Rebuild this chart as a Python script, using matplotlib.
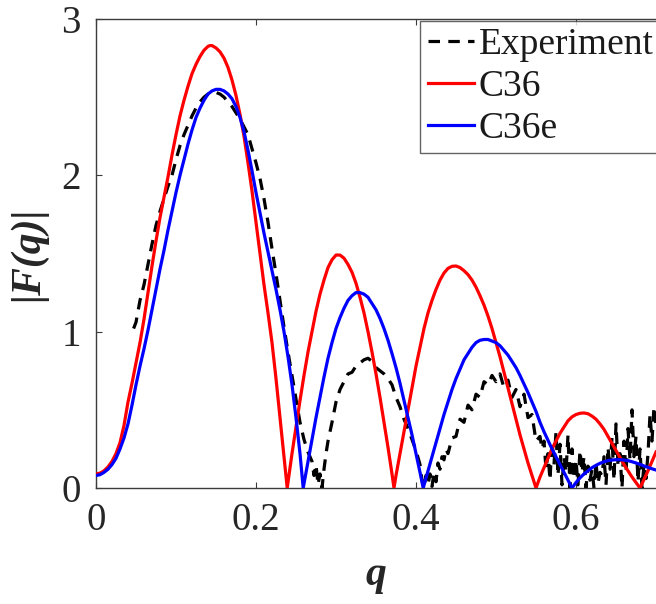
import matplotlib
matplotlib.use("Agg")
import matplotlib.pyplot as plt

# --- C36 model form factor ---
q_c36 = [0.0, 0.005, 0.01, 0.015, 0.02, 0.025, 0.03, 0.035, 0.04, 0.045, 0.05, 0.055,
         0.06, 0.065, 0.07, 0.075, 0.08, 0.085, 0.09, 0.095, 0.10, 0.105, 0.11, 0.115,
         0.12, 0.125, 0.13, 0.135, 0.14, 0.1425, 0.145, 0.15, 0.155, 0.16, 0.165, 0.17,
         0.175, 0.18, 0.185, 0.19, 0.195, 0.20, 0.205, 0.21, 0.215, 0.22, 0.225, 0.23,
         0.235, 0.239,
         0.245, 0.25, 0.255, 0.26, 0.265, 0.27, 0.275, 0.28, 0.285, 0.29, 0.295, 0.30,
         0.305, 0.31, 0.315, 0.32, 0.325, 0.33, 0.335, 0.34, 0.345, 0.35, 0.355, 0.36,
         0.365, 0.37, 0.3725,
         0.375, 0.38, 0.385, 0.39, 0.395, 0.40, 0.405, 0.41, 0.415, 0.42, 0.425, 0.43,
         0.435, 0.44, 0.445, 0.45, 0.455, 0.46, 0.465, 0.47, 0.475, 0.48, 0.485, 0.49,
         0.495, 0.50, 0.505, 0.51, 0.515, 0.52, 0.525, 0.53, 0.535, 0.54, 0.545, 0.55,
         0.555, 0.56, 0.565, 0.57, 0.575, 0.58, 0.585, 0.59, 0.595, 0.60, 0.605, 0.61,
         0.615, 0.62, 0.625, 0.63, 0.635, 0.64, 0.645, 0.65, 0.655, 0.66, 0.665, 0.67,
         0.675, 0.68, 0.685, 0.69, 0.695, 0.70]
f_c36 = [0.09, 0.095, 0.11, 0.135, 0.17, 0.22, 0.29, 0.40, 0.55, 0.67, 0.80, 0.93,
         1.08, 1.25, 1.42, 1.58, 1.73, 1.86, 1.99, 2.13, 2.26, 2.38, 2.48, 2.57,
         2.65, 2.71, 2.76, 2.80, 2.825, 2.83, 2.83, 2.815, 2.79, 2.75, 2.69, 2.61,
         2.51, 2.39, 2.25, 2.08, 1.90, 1.70, 1.50, 1.30, 1.12, 0.93, 0.70, 0.45,
         0.20, 0.0,
         0.22, 0.39, 0.56, 0.72, 0.87, 1.00, 1.13, 1.24, 1.33, 1.41, 1.46, 1.49,
         1.49, 1.47, 1.43, 1.38, 1.31, 1.22, 1.12, 1.00, 0.87, 0.73, 0.58, 0.42,
         0.26, 0.09, 0.0,
         0.08, 0.22, 0.36, 0.50, 0.64, 0.78, 0.90, 1.02, 1.12, 1.20, 1.27, 1.33,
         1.375, 1.405, 1.418, 1.42, 1.41, 1.39, 1.365, 1.33, 1.285, 1.23, 1.17, 1.10,
         1.02, 0.93, 0.84, 0.74, 0.64, 0.54, 0.44, 0.34, 0.25, 0.16, 0.08, 0.0,
         0.07, 0.13, 0.19, 0.25, 0.30, 0.35, 0.39, 0.43, 0.455, 0.47, 0.478, 0.48,
         0.475, 0.46, 0.44, 0.41, 0.375, 0.33, 0.285, 0.24, 0.195, 0.15, 0.11, 0.07,
         0.035, 0.0, 0.055, 0.11, 0.17, 0.23]

# --- C36e model form factor ---
q_c36e = [0.0, 0.005, 0.01, 0.015, 0.02, 0.025, 0.03, 0.035, 0.04, 0.045, 0.05, 0.055,
          0.06, 0.065, 0.07, 0.075, 0.08, 0.085, 0.09, 0.095, 0.10, 0.105, 0.11, 0.115,
          0.12, 0.125, 0.13, 0.135, 0.14, 0.145, 0.15, 0.155, 0.16, 0.165, 0.17, 0.175,
          0.18, 0.185, 0.19, 0.195, 0.20, 0.205, 0.21, 0.215, 0.22, 0.225, 0.23, 0.235,
          0.24, 0.245, 0.25, 0.255, 0.259,
          0.265, 0.27, 0.275, 0.28, 0.285, 0.29, 0.295, 0.30, 0.305, 0.31, 0.315, 0.32,
          0.325, 0.33, 0.335, 0.34, 0.345, 0.35, 0.355, 0.36, 0.365, 0.37, 0.375, 0.38,
          0.385, 0.39, 0.395, 0.40, 0.405, 0.409,
          0.415, 0.42, 0.425, 0.43, 0.435, 0.44, 0.445, 0.45, 0.455, 0.46, 0.465, 0.47,
          0.475, 0.48, 0.485, 0.49, 0.495, 0.50, 0.505, 0.51, 0.515, 0.52, 0.525, 0.53,
          0.535, 0.54, 0.545, 0.55, 0.555, 0.56, 0.565, 0.57, 0.575, 0.58, 0.585, 0.59,
          0.595,
          0.60, 0.605, 0.61, 0.615, 0.62, 0.625, 0.63, 0.635, 0.64, 0.645, 0.65, 0.655,
          0.66, 0.665, 0.67, 0.675, 0.68, 0.685, 0.69, 0.695, 0.70]
f_c36e = [0.08, 0.085, 0.10, 0.12, 0.15, 0.19, 0.25, 0.32, 0.41, 0.53, 0.66, 0.78,
          0.89, 1.01, 1.14, 1.27, 1.40, 1.52, 1.65, 1.77, 1.89, 2.00, 2.10, 2.20,
          2.29, 2.37, 2.43, 2.48, 2.52, 2.54, 2.55, 2.55, 2.54, 2.52, 2.49, 2.44,
          2.37, 2.28, 2.16, 2.03, 1.89, 1.76, 1.63, 1.51, 1.39, 1.27, 1.14, 1.00,
          0.84, 0.66, 0.45, 0.22, 0.0,
          0.17, 0.31, 0.45, 0.58, 0.71, 0.83, 0.93, 1.02, 1.09, 1.15, 1.20, 1.23,
          1.25, 1.25, 1.24, 1.22, 1.18, 1.14, 1.085, 1.02, 0.945, 0.86, 0.77, 0.67,
          0.56, 0.45, 0.34, 0.22, 0.10, 0.0,
          0.11, 0.20, 0.29, 0.38, 0.47, 0.55, 0.63, 0.70, 0.76, 0.82, 0.86, 0.90,
          0.93, 0.945, 0.95, 0.95, 0.94, 0.93, 0.91, 0.88, 0.85, 0.81, 0.77, 0.72,
          0.665, 0.61, 0.55, 0.49, 0.42, 0.36, 0.305, 0.25, 0.20, 0.15, 0.10, 0.05,
          0.0,
          0.035, 0.065, 0.09, 0.11, 0.13, 0.145, 0.158, 0.168, 0.175, 0.179, 0.181, 0.181,
          0.179, 0.175, 0.168, 0.16, 0.151, 0.141, 0.132, 0.123, 0.115]

# --- measured form factor ---
q_exp = [0.047, 0.05, 0.055, 0.06, 0.065, 0.07, 0.075, 0.08, 0.085, 0.09, 0.095, 0.10,
         0.105, 0.11, 0.115, 0.12, 0.125, 0.13, 0.135, 0.14, 0.145, 0.15, 0.155, 0.16,
         0.165, 0.17, 0.175, 0.18, 0.185, 0.19, 0.195, 0.20, 0.205, 0.21, 0.215, 0.22,
         0.225, 0.23, 0.235, 0.24, 0.245, 0.25, 0.255, 0.26, 0.265, 0.27,
         0.2725, 0.275, 0.2775, 0.28, 0.2825, 0.285, 0.2875, 0.29, 0.295, 0.30, 0.305,
         0.31, 0.315, 0.32, 0.325, 0.33, 0.335, 0.34, 0.345, 0.35, 0.355, 0.36, 0.365,
         0.37, 0.375, 0.38, 0.385, 0.39, 0.395, 0.40, 0.405, 0.4075, 0.41, 0.4125,
         0.415, 0.4175, 0.42, 0.4225, 0.425, 0.4275, 0.43, 0.4325, 0.435, 0.4375,
         0.44, 0.445, 0.45, 0.455, 0.46, 0.465, 0.47, 0.475, 0.48, 0.485, 0.49, 0.495,
         0.50, 0.505, 0.51, 0.515, 0.52, 0.525, 0.53, 0.535, 0.54, 0.545, 0.55, 0.555,
         0.5575, 0.56, 0.5625, 0.565, 0.5675, 0.57, 0.5725, 0.575, 0.5775, 0.58,
         0.5825, 0.585, 0.5875, 0.59, 0.5925, 0.595, 0.5975, 0.60, 0.6025, 0.605,
         0.6075, 0.61, 0.6125, 0.615, 0.6175, 0.62, 0.6225, 0.625, 0.6275, 0.63,
         0.6325, 0.635, 0.6375, 0.64, 0.6425, 0.645, 0.6475, 0.65, 0.6525, 0.655,
         0.6575, 0.66, 0.6625, 0.665, 0.6675, 0.67, 0.6725, 0.675, 0.6775, 0.68,
         0.6825, 0.685, 0.6875, 0.69, 0.6925, 0.695, 0.6975, 0.70]
f_exp = [1.02, 1.06, 1.20, 1.30, 1.43, 1.56, 1.68, 1.77, 1.85, 1.93, 2.00, 2.10,
         2.19, 2.26, 2.32, 2.38, 2.43, 2.47, 2.50, 2.52, 2.53, 2.53, 2.52, 2.50,
         2.47, 2.44, 2.40, 2.36, 2.31, 2.26, 2.17, 2.08, 1.98, 1.85, 1.70, 1.53,
         1.37, 1.20, 1.03, 0.87, 0.72, 0.57, 0.42, 0.31, 0.23, 0.17,
         0.08, 0.15, 0.02, 0.09, 0.0, 0.12, 0.22, 0.30, 0.42, 0.55, 0.63,
         0.68, 0.73, 0.74, 0.78, 0.80, 0.82, 0.83, 0.81, 0.77, 0.75, 0.73, 0.70,
         0.66, 0.58, 0.52, 0.44, 0.38, 0.31, 0.24, 0.15, 0.05, 0.0, 0.08,
         0.02, 0.09, 0.01, 0.10, 0.04, 0.16, 0.12, 0.20, 0.18, 0.25,
         0.22, 0.32, 0.33, 0.44, 0.42, 0.53, 0.50, 0.60, 0.58, 0.68, 0.66, 0.72,
         0.68, 0.73, 0.64, 0.69, 0.58, 0.63, 0.52, 0.60, 0.45, 0.47, 0.30, 0.33,
         0.25, 0.30, 0.12, 0.22, 0.05, 0.30, 0.15, 0.36, 0.08, 0.28,
         0.02, 0.20, 0.10, 0.34, 0.0, 0.25, 0.06, 0.18, 0.02, 0.24,
         0.10, 0.20, 0.0, 0.14, 0.05, 0.12, 0.0, 0.16, 0.03, 0.10,
         0.08, 0.20, 0.02, 0.26, 0.12, 0.32, 0.05, 0.41, 0.15, 0.22,
         0.0, 0.30, 0.10, 0.38, 0.18, 0.50, 0.20, 0.33, 0.04, 0.25,
         0.0, 0.15, 0.06, 0.22, 0.47, 0.30, 0.52, 0.40]

x_ticks = [0, 0.2, 0.4, 0.6]
x_tick_labels = ["0", "0.2", "0.4", "0.6"]
y_ticks = [0, 1, 2, 3]
y_tick_labels = ["0", "1", "2", "3"]

plt.rcParams["font.family"] = ["Liberation Serif", "DejaVu Serif"]
axis_color = "#3c3c3c"

fig = plt.figure(figsize=(6.56, 6.04), dpi=100)
ax = fig.add_axes([96 / 656, 1 - 488 / 604, 560 / 656, 469 / 604])

ax.plot(q_exp, f_exp, color="black", lw=2.3, linestyle=(0, (3.6, 2.6)),
        label="Experiment", zorder=2)
ax.plot(q_c36, f_c36, color="#ff0000", lw=2.3, label="C36", zorder=3)
ax.plot(q_c36e, f_c36e, color="#0000ff", lw=2.3, label="C36e", zorder=4)

ax.set_xlim(0, 0.7)
ax.set_ylim(0, 3)
ax.set_xticks(x_ticks)
ax.set_xticklabels(x_tick_labels)
ax.set_yticks(y_ticks)
ax.set_yticklabels(y_tick_labels)
ax.tick_params(direction="in", length=4.5, width=0.8, colors=axis_color,
               labelsize=28, top=True, right=False)
ax.tick_params(axis="x", pad=10)
ax.tick_params(axis="y", pad=11)
for lbl in ax.get_xticklabels() + ax.get_yticklabels():
    lbl.set_color("#262626")
for side in ("left", "bottom", "top"):
    ax.spines[side].set_color(axis_color)
    ax.spines[side].set_linewidth(1.0)
ax.spines["right"].set_visible(False)

ax.set_xlabel("q", fontsize=30, fontweight="bold", style="italic",
              color="#262626", labelpad=12)
ax.set_ylabel("|F(q)|", fontsize=30, fontweight="bold", style="italic",
              color="#262626", labelpad=10)

# legend frame starts level with the top spine and runs off the right edge
leg = ax.legend(loc="upper left", bbox_to_anchor=((420 - 96) / 560, 1.0 - 1.5 / 469),
                borderaxespad=0, fontsize=27, frameon=True, fancybox=False,
                handlelength=1.25, handletextpad=0.12, labelspacing=0.19,
                borderpad=0.2)
leg.get_frame().set_edgecolor(axis_color)
leg.get_frame().set_linewidth(1.0)
for txt in leg.get_texts():
    txt.set_color("#1a1a1a")

fig.savefig("out.png", dpi=100)
